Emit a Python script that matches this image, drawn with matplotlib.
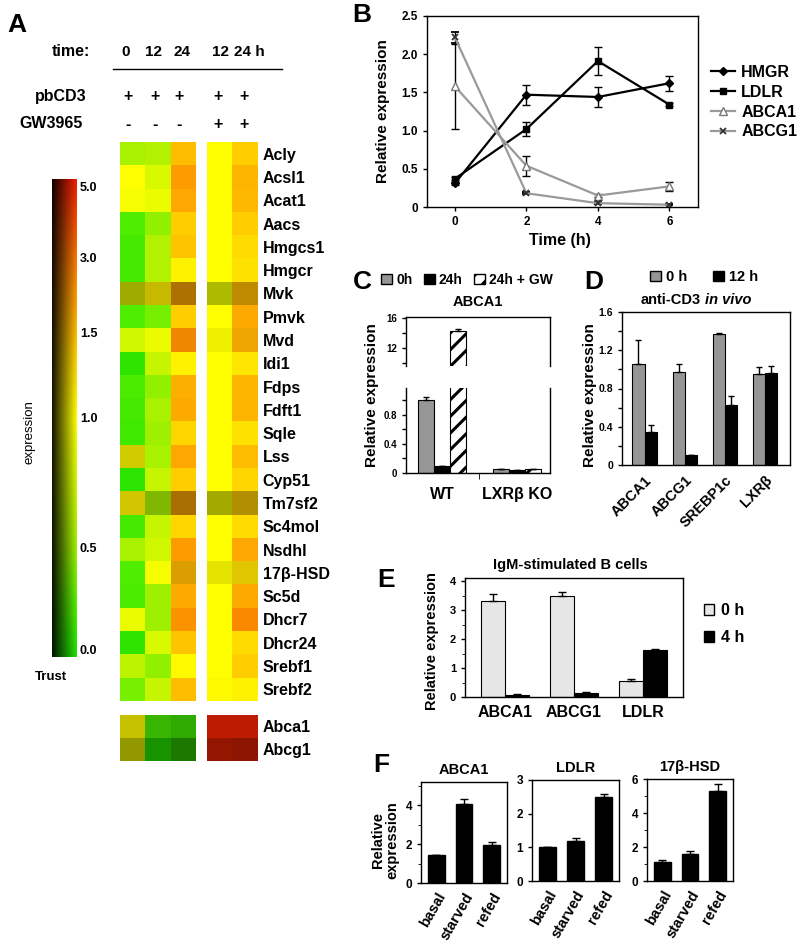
import numpy as np
import matplotlib

matplotlib.use("Agg")
import matplotlib.pyplot as plt
from matplotlib.colors import LinearSegmentedColormap
from matplotlib.lines import Line2D
from matplotlib.patches import Patch

W, H = 800, 949

# ---------------- panel A: heatmap data ----------------
GENES = ["Acly", "Acsl1", "Acat1", "Aacs", "Hmgcs1", "Hmgcr", "Mvk", "Pmvk", "Mvd",
         "Idi1", "Fdps", "Fdft1", "Sqle", "Lss", "Cyp51", "Tm7sf2", "Sc4mol", "Nsdhl",
         "17β-HSD", "Sc5d", "Dhcr7", "Dhcr24", "Srebf1", "Srebf2"]
# expression (fold) per column: 0, 12, 24 h (pbCD3) and 12, 24 h (pbCD3 + GW3965)
T0 = [0.55, 1.0, 0.95, 0.2, 0.15, 0.15, 0.9, 0.2, 0.75, 0.05, 0.18, 0.15,
      0.12, 1.05, 0.03, 1.1, 0.15, 0.55, 0.2, 0.18, 0.9, 0.05, 0.65, 0.35]
T12 = [0.6, 0.8, 0.9, 0.45, 0.6, 0.6, 1.15, 0.35, 0.9, 0.7, 0.45, 0.55,
       0.5, 0.55, 0.7, 0.55, 0.7, 0.75, 0.95, 0.5, 0.5, 0.8, 0.45, 0.7]
T24 = [1.5, 2.2, 2.0, 1.4, 1.45, 1.1, 2.0, 1.4, 2.5, 1.1, 1.8, 1.9,
       1.35, 2.0, 1.4, 2.0, 1.35, 2.2, 1.6, 1.9, 2.4, 1.45, 1.05, 1.5]
GW12 = [1.0, 1.0, 1.0, 1.0, 1.0, 1.0, 0.9, 1.0, 1.0, 1.0, 1.0, 1.0,
        1.0, 1.0, 1.0, 0.95, 1.0, 1.0, 1.0, 1.0, 1.0, 1.0, 1.0, 1.05]
GW24 = [1.4, 1.7, 1.6, 1.4, 1.3, 1.25, 1.6, 1.9, 1.8, 1.2, 1.7, 1.7,
        1.25, 1.5, 1.35, 1.4, 1.3, 2.0, 1.25, 1.9, 2.6, 1.3, 1.4, 1.1]
# trust per cell (1 = full brightness, lower = darker)
TRUST_T0 = [1, 1, 1, 1, 1, 1, 0.68, 1, 1, 1, 1, 1, 1, 0.82, 1, 0.82, 1, 1, 1, 1, 1, 1, 1, 1]
TRUST_T12 = [1, 1, 1, 1, 1, 1, 0.78, 1, 1, 1, 1, 1, 1, 1, 1, 0.76, 1, 1, 1, 1, 1, 1, 1, 1]
TRUST_T24 = [1, 1, 1, 1, 1, 1, 0.68, 1, 0.95, 1, 1, 1, 1, 1, 1, 0.67, 1, 1, 0.86, 1, 1, 1, 1, 1]
TRUST_GW12 = [1, 1, 1, 1, 1, 1, 0.74, 1, 0.94, 1, 1, 1, 1, 1, 1, 0.67, 1, 1, 0.9, 1, 1, 1, 1, 1]
TRUST_GW24 = [1, 1, 1, 1, 1, 1, 0.75, 1, 0.94, 1, 1, 1, 1, 1, 1, 0.7, 1, 1, 0.88, 1, 1, 1, 1, 1]

LXR_GENES = ["Abca1", "Abcg1"]
LXR_T0 = [1.05, 0.95]
LXR_T12 = [0.17, 0.0]
LXR_T24 = [0.12, 0.1]
LXR_GW12 = [5.0, 5.0]
LXR_GW24 = [5.0, 5.0]
LXR_TRUST_T0 = [0.78, 0.6]
LXR_TRUST_T12 = [0.77, 0.65]
LXR_TRUST_T24 = [0.73, 0.52]
LXR_TRUST_GW12 = [0.79, 0.62]
LXR_TRUST_GW24 = [0.79, 0.58]

HEADER_TIMES = ["0", "12", "24", "12", "24 h"]
PBCD3_SIGNS = ["+", "+", "+", "+", "+"]
GW_SIGNS = ["-", "-", "-", "+", "+"]

# colour scale (value -> position on the bar)
CBAR_VALUES = [0.0, 0.5, 1.0, 1.5, 3.0, 5.0]
CBAR_POS = [0.015, 0.23, 0.5, 0.678, 0.835, 0.985]
CBAR_LABELS = ["0.0", "0.5", "1.0", "1.5", "3.0", "5.0"]

# ---------------- panel B ----------------
TIME_H = [0, 2, 4, 6]
HMGR = [0.31, 1.47, 1.44, 1.62]
HMGR_ERR = [0.02, 0.13, 0.13, 0.10]
LDLR_B = [0.37, 1.02, 1.91, 1.34]
LDLR_B_ERR = [0.02, 0.09, 0.18, 0.02]
ABCA1_B = [1.58, 0.54, 0.15, 0.27]
ABCA1_B_ERR = [0.56, 0.13, 0.02, 0.06]
ABCG1_B = [2.22, 0.18, 0.05, 0.03]
ABCG1_B_ERR = [0.07, 0.01, 0.01, 0.01]

# ---------------- panel C ----------------
C_GROUPS = ["WT", "LXRβ KO"]
C_SERIES = ["0h", "24h", "24h + GW"]
C_0H = [1.0, 0.055]
C_0H_ERR = [0.04, 0.005]
C_24H = [0.09, 0.035]
C_24H_ERR = [0.005, 0.005]
C_24H_GW = [14.25, 0.05]
C_24H_GW_ERR = [0.3, 0.01]

# ---------------- panel D ----------------
D_GENES = ["ABCA1", "ABCG1", "SREBP1c", "LXRβ"]
D_0H = [1.06, 0.97, 1.37, 0.95]
D_0H_ERR = [0.25, 0.09, 0.01, 0.07]
D_12H = [0.35, 0.10, 0.63, 0.96]
D_12H_ERR = [0.07, 0.0, 0.09, 0.08]

# ---------------- panel E ----------------
E_GENES = ["ABCA1", "ABCG1", "LDLR"]
E_0H = [3.32, 3.48, 0.57]
E_0H_ERR = [0.25, 0.15, 0.06]
E_4H = [0.08, 0.13, 1.64]
E_4H_ERR = [0.03, 0.04, 0.02]

# ---------------- panel F ----------------
F_CONDITIONS = ["basal", "starved", "refed"]
F_ABCA1 = [1.42, 4.05, 1.95]
F_ABCA1_ERR = [0.03, 0.3, 0.18]
F_LDLR = [1.0, 1.2, 2.5]
F_LDLR_ERR = [0.0, 0.09, 0.09]
F_HSD = [1.1, 1.6, 5.3]
F_HSD_ERR = [0.12, 0.18, 0.38]

GRAY = "#969696"
LIGHT = "#e6e6e6"

plt.rcParams["font.family"] = ["Liberation Sans", "DejaVu Sans"]
plt.rcParams["font.weight"] = "bold"
plt.rcParams["axes.linewidth"] = 1.0
plt.rcParams["hatch.linewidth"] = 2.2
plt.rcParams["xtick.major.width"] = 1.0
plt.rcParams["ytick.major.width"] = 1.0

fig = plt.figure(figsize=(W / 100, H / 100), dpi=100)


def px_axes(x0, y0, x1, y1):
    # axes placed by pixel box (origin top-left)
    return fig.add_axes([x0 / W, 1 - y1 / H, (x1 - x0) / W, (y1 - y0) / H])


def px_text(x, y, s, **kw):
    kw.setdefault("ha", "center")
    kw.setdefault("va", "center")
    fig.text(x / W, 1 - y / H, s, **kw)


heat_cmap = LinearSegmentedColormap.from_list(
    "gyr",
    [(0.0, "#1ee100"), (0.12, "#5af000"), (0.23, "#a0f000"), (0.5, "#ffff00"),
     (0.62, "#ffd700"), (0.678, "#ffbe00"), (0.835, "#fa7800"), (1.0, "#f01e00")],
)


def to_rgb(cols, trusts):
    vals = np.array(cols).T
    trust = np.array(trusts).T
    frac = np.interp(vals, CBAR_VALUES, CBAR_POS)
    return heat_cmap(frac)[..., :3] * trust[..., None]


def heat_block(box, cols, trusts, labels=None):
    ax = px_axes(*box)
    ax.imshow(to_rgb(cols, trusts), aspect="auto", interpolation="nearest")
    ax.set_xticks([])
    for s in ax.spines.values():
        s.set_visible(False)
    if labels is None:
        ax.set_yticks([])
    else:
        ax.yaxis.tick_right()
        ax.set_yticks(range(len(labels)), labels, fontsize=11.5)
        ax.tick_params(axis="y", length=0, pad=4)
    return ax


# ---------------- A ----------------
px_text(17, 25, "A", fontsize=19)
px_text(90, 52, "time:", ha="right", fontsize=11.5)
for x, t in zip([126, 154, 182, 220, 249], HEADER_TIMES):
    px_text(x, 52, t, fontsize=11)
fig.add_artist(Line2D([113 / W, 282 / W], [1 - 69 / H] * 2, color="k", lw=1))
px_text(87, 97, "pbCD3", ha="right", fontsize=11.5)
px_text(83, 124, "GW3965", ha="right", fontsize=11.5)
for x, p, g in zip([128, 155, 179, 218, 244], PBCD3_SIGNS, GW_SIGNS):
    px_text(x, 97, p, fontsize=11.5)
    px_text(x, 124, g, fontsize=11.5)

heat_block((120, 142, 196, 701), [T0, T12, T24], [TRUST_T0, TRUST_T12, TRUST_T24])
heat_block((207, 142, 257, 701), [GW12, GW24], [TRUST_GW12, TRUST_GW24], GENES)
heat_block((120, 715, 196, 761), [LXR_T0, LXR_T12, LXR_T24],
           [LXR_TRUST_T0, LXR_TRUST_T12, LXR_TRUST_T24])
heat_block((207, 715, 257, 761), [LXR_GW12, LXR_GW24],
           [LXR_TRUST_GW12, LXR_TRUST_GW24], LXR_GENES)

# 2D colour key: vertical = expression, horizontal = trust
cax = px_axes(52, 179, 77, 657)
grad_f = np.linspace(0, 1, 300)
grad_t = np.linspace(0.08, 1, 60)
cax.imshow(heat_cmap(grad_f)[:, None, :3] * grad_t[None, :, None], aspect="auto",
           origin="lower", extent=[0, 1, 0, 1])
cax.set_xticks([])
cax.yaxis.tick_right()
cax.set_yticks(np.interp(CBAR_VALUES, CBAR_VALUES, CBAR_POS), CBAR_LABELS, fontsize=9)
cax.tick_params(axis="y", length=0, pad=2)
for s in cax.spines.values():
    s.set_visible(False)
px_text(30, 432, "expression", rotation=90, fontsize=9.5, fontweight="normal")
px_text(51, 677, "Trust", fontsize=9.5)

# ---------------- B ----------------
axb = px_axes(427, 16, 698, 207)
b_series = [
    (HMGR, HMGR_ERR, "HMGR", dict(color="k", marker="D", ms=4.5)),
    (LDLR_B, LDLR_B_ERR, "LDLR", dict(color="k", marker="s", ms=5)),
    (ABCA1_B, ABCA1_B_ERR, "ABCA1", dict(color="#9a9a9a", marker="^", ms=5.5,
                                         mfc="white", mec="#777777")),
    (ABCG1_B, ABCG1_B_ERR, "ABCG1", dict(color="#9a9a9a", marker="x", ms=5,
                                         mec="#333333", mew=1.3)),
]
b_handles = []
for vals, err, name, style in b_series:
    axb.errorbar(TIME_H, vals, yerr=err, lw=1.6, ecolor="k", elinewidth=1, capsize=3,
                 **style)
    b_handles.append(Line2D([], [], lw=1.6, **style))
axb.set_xlim(-0.78, 6.8)
axb.set_ylim(0, 2.5)
axb.set_xticks(TIME_H)
axb.set_yticks([0, 0.5, 1.0, 1.5, 2.0, 2.5], ["0", "0.5", "1.0", "1.5", "2.0", "2.5"])
axb.tick_params(labelsize=8.5, length=3)
fig.legend(b_handles, [s[2] for s in b_series], loc="upper left",
           bbox_to_anchor=(703 / W, 1 - 57 / H), frameon=False, fontsize=11.5,
           handlelength=1.5, handletextpad=0.4, labelspacing=0.3, borderpad=0)
px_text(383, 111, "Relative expression", rotation=90, fontsize=11)
px_text(560, 240, "Time (h)", fontsize=11.5)
px_text(362, 15, "B", fontsize=19)

# ---------------- C (broken axis) ----------------
c_x = np.arange(len(C_GROUPS))
c_w = 0.213
c_series = [(C_0H, C_0H_ERR, GRAY, None), (C_24H, C_24H_ERR, "k", None),
            (C_24H_GW, C_24H_GW_ERR, "white", "//")]
axc_top = px_axes(406, 317, 550, 366)
axc_bot = px_axes(406, 388, 550, 473)
for ax in (axc_top, axc_bot):
    for i, (vals, err, col, hatch) in enumerate(c_series):
        ax.bar(c_x + (i - 1) * c_w, vals, c_w, color=col, edgecolor="k", lw=0.8,
               hatch=hatch, yerr=[np.zeros(len(err)), err],
               error_kw=dict(ecolor="k", elinewidth=1, capsize=2.5, capthick=1))
    ax.set_xlim(-0.48, 1.44)
    ax.tick_params(axis="y", labelsize=7, length=3)
axc_top.set_ylim(9.6, 16.2)
axc_top.set_yticks([10, 12, 14, 16], ["", "12", "", "16"])
axc_top.spines["bottom"].set_visible(False)
axc_top.set_xticks([])
axc_bot.set_ylim(0, 1.17)
axc_bot.set_yticks([0, 0.2, 0.4, 0.6, 0.8, 1.0], ["0", "", "0.4", "", "0.8", ""])
axc_bot.spines["top"].set_visible(False)
axc_bot.set_xticks(c_x, C_GROUPS, fontsize=11.5)
axc_bot.tick_params(axis="x", length=0, pad=10)
axc_bot.set_xticks([0.5], minor=True)
axc_bot.tick_params(axis="x", which="minor", length=4)
fig.legend([Patch(facecolor=GRAY, edgecolor="k"), Patch(facecolor="k", edgecolor="k"),
            Patch(facecolor="white", edgecolor="k", hatch="//")], C_SERIES,
           loc="center", bbox_to_anchor=(467 / W, 1 - 280 / H), ncol=3, frameon=False,
           fontsize=10, handlelength=0.8, handleheight=0.8, handletextpad=0.3,
           columnspacing=0.8, borderpad=0)
px_text(478, 302, "ABCA1", fontsize=10.5)
px_text(372, 395, "Relative expression", rotation=90, fontsize=11)
px_text(362, 282, "C", fontsize=19)

# ---------------- D ----------------
axd = px_axes(622, 312, 790, 465)
d_x = np.arange(len(D_GENES))
d_w = 0.3
for i, (vals, err, col) in enumerate([(D_0H, D_0H_ERR, GRAY), (D_12H, D_12H_ERR, "k")]):
    axd.bar(d_x + (i - 0.5) * d_w, vals, d_w, color=col, edgecolor="k", lw=0.8,
            yerr=[np.zeros(len(err)), err],
            error_kw=dict(ecolor="k", elinewidth=1, capsize=2.5, capthick=1))
axd.set_xlim(-0.56, 3.62)
axd.set_ylim(0, 1.6)
axd.set_yticks([0, 0.2, 0.4, 0.6, 0.8, 1.0, 1.2, 1.4, 1.6],
               ["0", "", "0.4", "", "0.8", "", "1.2", "", "1.6"])
axd.tick_params(axis="y", labelsize=7.5, length=3)
axd.set_xticks(d_x, D_GENES, rotation=45, ha="right", rotation_mode="anchor", fontsize=10.5)
axd.tick_params(axis="x", length=0, pad=6)
fig.legend([Patch(facecolor=GRAY, edgecolor="k"), Patch(facecolor="k", edgecolor="k")],
           ["0 h", "12 h"], loc="center", bbox_to_anchor=(704 / W, 1 - 277 / H), ncol=2,
           frameon=False, fontsize=10.5, handlelength=0.75, handleheight=0.75,
           handletextpad=0.35, columnspacing=1.8, borderpad=0)
px_text(701, 300, "anti-CD3", ha="right", fontsize=10.5)
px_text(705, 300, "in vivo", ha="left", fontsize=10.5, style="italic")
px_text(590, 395, "Relative expression", rotation=90, fontsize=11)
px_text(594, 282, "D", fontsize=19)

# ---------------- E ----------------
axe = px_axes(465, 578, 683, 697)
e_x = np.arange(len(E_GENES))
e_w = 0.35
for i, (vals, err, col) in enumerate([(E_0H, E_0H_ERR, LIGHT), (E_4H, E_4H_ERR, "k")]):
    axe.bar(e_x + (i - 0.5) * e_w, vals, e_w, color=col, edgecolor="k", lw=0.8,
            yerr=[np.zeros(len(err)), err],
            error_kw=dict(ecolor="k", elinewidth=1, capsize=3, capthick=1))
axe.set_xlim(-0.58, 2.58)
axe.set_ylim(0, 4.12)
axe.set_yticks([0, 1, 2, 3, 4])
axe.set_yticks([0.5, 1.5, 2.5, 3.5], minor=True)
axe.tick_params(axis="y", labelsize=8, length=3)
axe.tick_params(axis="y", which="minor", length=2)
axe.set_xticks(e_x, E_GENES, fontsize=11.5)
axe.tick_params(axis="x", length=0, pad=6)
fig.legend([Patch(facecolor=LIGHT, edgecolor="k"), Patch(facecolor="k", edgecolor="k")],
           ["0 h", "4 h"], loc="upper left", bbox_to_anchor=(696 / W, 1 - 595 / H),
           frameon=False, fontsize=11.5, handlelength=0.65, handleheight=0.65,
           handletextpad=0.4, labelspacing=0.75, borderpad=0)
px_text(570, 565, "IgM-stimulated B cells", fontsize=10.5)
px_text(432, 641, "Relative expression", rotation=90, fontsize=10.5)
px_text(386, 580, "E", fontsize=19)

# ---------------- F ----------------
f_x = np.arange(len(F_CONDITIONS))
f_panels = [
    ((421, 782, 507, 883), F_ABCA1, F_ABCA1_ERR, 5.2, [0, 2, 4], [1, 3, 5], "ABCA1"),
    ((532, 780, 619, 881), F_LDLR, F_LDLR_ERR, 3.0, [0, 1, 2, 3], [], "LDLR"),
    ((647, 779, 733, 881), F_HSD, F_HSD_ERR, 6.0, [0, 2, 4, 6], [1, 3, 5], "17β-HSD"),
]
for box, vals, err, top, major, minor, title in f_panels:
    ax = px_axes(*box)
    ax.bar(f_x, vals, 0.6, color="k", edgecolor="k", yerr=[np.zeros(len(err)), err],
           error_kw=dict(ecolor="k", elinewidth=1, capsize=3, capthick=1))
    ax.set_xlim(-0.55, 2.55)
    ax.set_ylim(0, top)
    ax.set_yticks(major)
    ax.set_yticks(minor, minor=True)
    ax.tick_params(axis="y", labelsize=8.5, length=3)
    ax.tick_params(axis="y", which="minor", length=2)
    ax.set_xticks(f_x, F_CONDITIONS, rotation=60, ha="right", rotation_mode="anchor",
                  fontsize=10.5)
    ax.tick_params(axis="x", length=0, pad=5)
    ax.set_title(title, fontsize=10.5, fontweight="bold", pad=6)
px_text(385, 840, "Relative\nexpression", rotation=90, fontsize=10.5, linespacing=1.0)
px_text(381, 765, "F", fontsize=19)

fig.savefig("out.png", dpi=100)
